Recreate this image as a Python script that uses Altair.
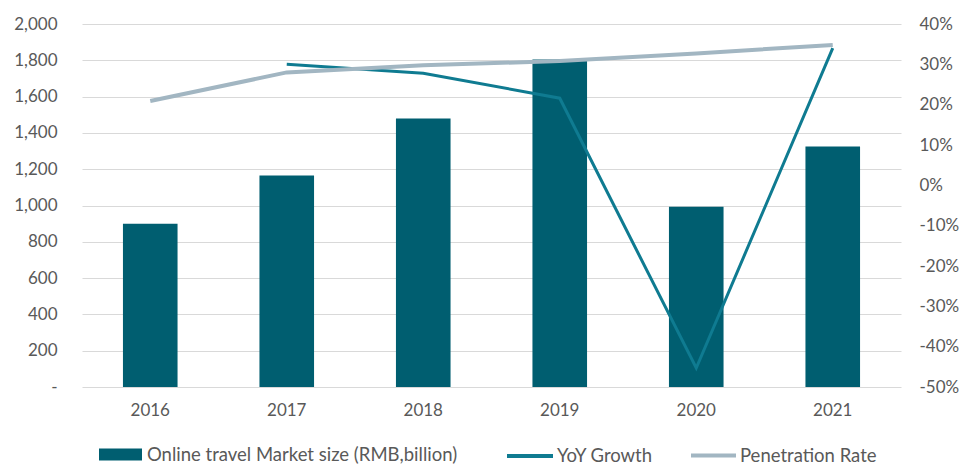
import altair as alt
import pandas as pd

years = ["2016", "2017", "2018", "2019", "2020", "2021"]
market = [900, 1165, 1480, 1805, 993, 1325]
yoy = [None, 0.300, 0.278, 0.216, -0.453, 0.340]
pen = [0.209, 0.280, 0.298, 0.308, 0.327, 0.348]

left_ticks = [0, 200, 400, 600, 800, 1000, 1200, 1400, 1600, 1800, 2000]
right_ticks = [-0.5, -0.4, -0.3, -0.2, -0.1, 0.0, 0.1, 0.2, 0.3, 0.4]

bar_name = "Online travel Market size (RMB,billion)"
yoy_name = "YoY Growth"
pen_name = "Penetration Rate"

BAR = "#005E70"
YOY = "#0F7B91"
PEN = "#A2B6C2"
TXT = "#595959"
FONT = "Lato"
FS = 17
LFS = 18.5

df_bar = pd.DataFrame({"year": years, "value": market, "series": bar_name})
df_yoy = pd.DataFrame({"year": years[1:], "value": yoy[1:], "series": yoy_name})
df_pen = pd.DataFrame({"year": years, "value": pen, "series": pen_name})

x = alt.X(
    "year:N",
    sort=years,
    scale=alt.Scale(paddingInner=0.6, paddingOuter=0.3),
    axis=alt.Axis(title=None, labelAngle=0, domain=False, ticks=False,
                  labelPadding=15, grid=False),
)

bars = alt.Chart(df_bar).mark_bar().encode(
    x=x,
    y=alt.Y(
        "value:Q",
        scale=alt.Scale(domain=[0, 2000], nice=False, zero=True),
        axis=alt.Axis(title=None, values=left_ticks,
                      labelExpr="datum.value == 0 ? '-' : format(datum.value, ',')",
                      grid=True, gridColor="#D9D9D9", gridWidth=1,
                      domain=False, ticks=False, labelPadding=25),
    ),
    fill=alt.Fill(
        "series:N",
        scale=alt.Scale(domain=[bar_name], range=[BAR]),
        legend=alt.Legend(orient="none", legendX=17, legendY=409, title=None,
                          symbolType="M-1,-0.28H1V0.28H-1Z", symbolSize=1849,
                          symbolStrokeWidth=0, labelOffset=5, padding=0,
                          labelLimit=500),
    ),
)

right_axis = alt.Axis(title=None, orient="right", values=right_ticks,
                      labelExpr="(datum.value < 0 ? '-' : '') + format(abs(datum.value), '.0%')",
                      grid=False, domain=False, ticks=False, labelPadding=18)
right_scale = alt.Scale(domain=[-0.5, 0.4], nice=False, zero=False)

yoy_line = alt.Chart(df_yoy).mark_line(strokeWidth=3).encode(
    x=x,
    y=alt.Y("value:Q", scale=right_scale, axis=right_axis),
    stroke=alt.Stroke(
        "series:N",
        scale=alt.Scale(domain=[yoy_name], range=[YOY]),
        legend=alt.Legend(orient="none", legendX=423, legendY=407, title=None,
                          symbolType="stroke", symbolSize=2116, symbolStrokeWidth=4,
                          labelOffset=2, padding=0, labelLimit=500),
    ),
)

pen_line = alt.Chart(df_pen).mark_line(strokeWidth=4).encode(
    x=x,
    y=alt.Y("value:Q", scale=right_scale, axis=right_axis),
    color=alt.Color(
        "series:N",
        scale=alt.Scale(domain=[pen_name], range=[PEN]),
        legend=alt.Legend(orient="none", legendX=607, legendY=407, title=None,
                          symbolType="stroke", symbolSize=2025, symbolStrokeWidth=4,
                          labelOffset=2, padding=0, labelLimit=500),
    ),
)

chart = alt.layer(bars, alt.layer(yoy_line, pen_line)).resolve_scale(
    y="independent"
).properties(
    width=819,
    height=363,
    padding={"left": 82, "top": 24, "right": 61, "bottom": 79},
    autosize=alt.AutoSizeParams(type="none"),
).configure_view(stroke=None).configure_axis(
    labelFont=FONT, labelFontSize=FS, labelColor=TXT
).configure_legend(
    labelFont=FONT, labelFontSize=LFS, labelColor=TXT
)

chart.save("out.html", embed_options={"renderer": "svg", "actions": False})
